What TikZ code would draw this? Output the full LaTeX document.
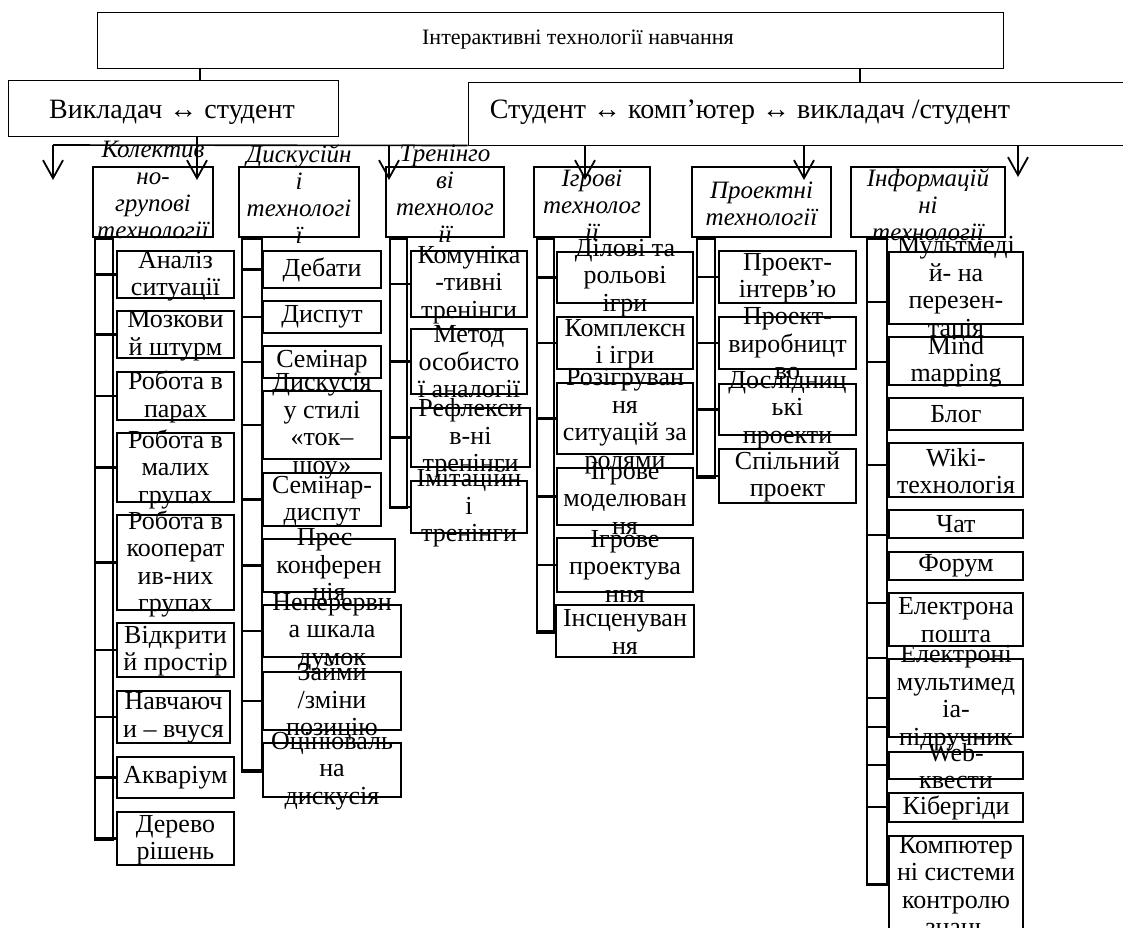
\documentclass[tikz,border=0pt]{standalone}
\usepackage{fontspec}
\setmainfont{Liberation Serif}
\usetikzlibrary{positioning,arrows.meta}

\begin{document}
\begin{tikzpicture}[
    x=1pt, y=-1pt,
    frame/.style={draw, line width=1pt, inner sep=0pt},
    cat/.style={draw, line width=2.8pt, inner sep=0pt, minimum height=70},
    cattext/.style={font=\fontsize{25}{27}\selectfont\itshape, align=center, inner sep=0pt},
    item/.style={draw, line width=2.6pt, inner sep=0pt},
    itemtext/.style={font=\fontsize{26}{27.5}\selectfont, align=center, inner sep=0pt},
    bar/.style={draw, line width=2.6pt, inner sep=0pt, anchor=north},
    link/.style={line width=1.2pt},
    arr/.style={-{Straight Barb[length=18pt, width=20pt]}, line width=1.8pt}
]
\useasboundingbox (0,0) rectangle (1123,927);
\clip (0,0) rectangle (1123,927);

% top level
\node[frame, minimum width=906, minimum height=56] (top) at (550,40) {};
\node[font=\fontsize{22}{26}\selectfont] (topT) at (578,40) {Інтерактивні технології навчання};
\node[frame, minimum width=330, minimum height=56] (vs) at (173,108) {};
\node[font=\fontsize{28}{32}\selectfont] (vsT) at (172,112) {Викладач ↔ студент};
\node[frame, minimum width=680, minimum height=63] (skv) at (808,113.5) {};
\node[font=\fontsize{28}{32}\selectfont] (skvT) at (750,112) {Студент ↔ комп’ютер ↔ викладач /студент};

\coordinate (j1) at (200,0);
\coordinate (j2) at (860,0);
\draw[link] (top.south -| j1) -- (vs.north -| j1);
\draw[link] (top.south -| j2) -- (skv.north -| j2);

% bus and arrows
\coordinate (busL) at (53,145);
\draw[line width=1.6pt] (busL) -- (skv.south west);
\coordinate (h1) at (53,180);
\coordinate (h2) at (197,180);
\coordinate (h3) at (389,180);
\coordinate (h4) at (585,180);
\coordinate (h5) at (804,180);
\coordinate (h6) at (1018,177);
\draw[arr] (busL) -- (h1);
\draw[arr] (vs.south -| h2) -- (h2);
\draw[arr] (busL -| h3) -- (h3);
\draw[arr] (skv.south -| h4) -- (h4);
\draw[arr] (skv.south -| h5) -- (h5);
\draw[arr] (skv.south -| h6) -- (h6);

% kinds of technologies
\node[cat, minimum width=120] (c1) at (153,202) {};
\node[cattext] (c1t) at (153,190) {Колектив\\но-\\групові\\технології};
\node[cat, minimum width=120] (c2) at (299,202) {};
\node[cattext] (c2t) at (299,194) {Дискусійн\\і\\технологі\\ї};
\node[cat, minimum width=118] (c3) at (445,202) {};
\node[cattext] (c3t) at (445,194) {Тренінго\\ві\\технолог\\ії};
\node[cat, minimum width=116] (c4) at (592,202) {};
\node[cattext] (c4t) at (592,205) {Ігрові\\технолог\\ії};
\node[cat, minimum width=139] (c5) at (761.5,202) {};
\node[cattext] (c5t) at (761.5,204) {Проектні\\технології};
\node[cat, minimum width=154] (c6) at (928,202) {};
\node[cattext] (c6t) at (928,205) {Інформацій\\ні\\технології};

% collective and group
\node[bar, minimum width=18, minimum height=601] (bar1) at (104,237) {};
\node[item, minimum width=117, minimum height=47] (k1) at (175.5,274.5) {};
\node[itemtext] (k1t) at (175.5,276) {Аналіз\\ситуації};
\node[item, minimum width=117, minimum height=47] (k2) at (175.5,334.5) {};
\node[itemtext] (k2t) at (175.5,336) {Мозкови\\й штурм};
\node[item, minimum width=117, minimum height=48] (k3) at (175.5,396) {};
\node[itemtext] (k3t) at (175.5,397) {Робота в\\парах};
\node[item, minimum width=117, minimum height=69] (k4) at (175.5,467.5) {};
\node[itemtext] (k4t) at (175.5,469) {Робота в\\малих\\групах};
\node[item, minimum width=117, minimum height=95] (k5) at (175.5,562.5) {};
\node[itemtext] (k5t) at (175.5,564) {Робота в\\кооперат\\ив-них\\групах};
\node[item, minimum width=117, minimum height=54] (k6) at (175.5,650) {};
\node[itemtext] (k6t) at (175.5,651) {Відкрити\\й простір};
\node[item, minimum width=113, minimum height=52] (k7) at (173.5,717) {};
\node[itemtext] (k7t) at (173.5,718) {Навчаюч\\и – вчуся};
\node[item, minimum width=117, minimum height=41] (k8) at (175.5,777.5) {};
\node[itemtext] (k8t) at (175.5,778) {Акваріум};
\node[item, minimum width=117, minimum height=53] (k9) at (175.5,838.5) {};
\node[itemtext] (k9t) at (175.5,840) {Дерево\\рішень};
\draw[bar] (bar1.west |- k1) -- (k1.west);
\draw[bar] (bar1.west |- k2) -- (k2.west);
\draw[bar] (bar1.west |- k3) -- (k3.west);
\draw[bar] (bar1.west |- k4) -- (k4.west);
\draw[bar] (bar1.west |- k5) -- (k5.west);
\draw[bar] (bar1.west |- k6) -- (k6.west);
\draw[bar] (bar1.west |- k7) -- (k7.west);
\draw[bar] (bar1.west |- k8) -- (k8.west);
\draw[bar] (bar1.west |- k9) -- (k9.west);

% discussion
\node[bar, minimum width=20, minimum height=533] (bar2) at (252,237) {};
\node[item, minimum width=118, minimum height=37] (d1) at (322,269.5) {};
\node[itemtext] (d1t) at (322,270) {Дебати};
\node[item, minimum width=118, minimum height=32] (d2) at (322,317) {};
\node[itemtext] (d2t) at (322,317) {Диспут};
\node[item, minimum width=118, minimum height=32] (d3) at (322,362) {};
\node[itemtext] (d3t) at (322,362) {Семінар};
\node[item, minimum width=118, minimum height=68] (d4) at (322,425) {};
\node[itemtext] (d4t) at (322,426) {Дискусія\\у стилі\\«ток–\\шоу»};
\node[item, minimum width=118, minimum height=53] (d5) at (322,499.5) {};
\node[itemtext] (d5t) at (322,501) {Семінар-\\диспут};
\node[item, minimum width=132, minimum height=53] (d6) at (329,565.5) {};
\node[itemtext] (d6t) at (329,567) {Прес-\\конферен\\ція};
\node[item, minimum width=138, minimum height=52] (d7) at (332,631) {};
\node[itemtext] (d7t) at (332,632) {Неперервн\\а шкала\\думок};
\node[item, minimum width=138, minimum height=58] (d8) at (332,701) {};
\node[itemtext] (d8t) at (332,702) {Займи\\/зміни\\позицію};
\node[item, minimum width=138, minimum height=54] (d9) at (332,770) {};
\node[itemtext] (d9t) at (332,771) {Оцінюваль\\на\\дискусія};
\draw[bar] (bar2.west |- d1) -- (d1.west);
\draw[bar] (bar2.west |- d2) -- (d2.west);
\draw[bar] (bar2.west |- d3) -- (d3.west);
\draw[bar] (bar2.west |- d4) -- (d4.west);
\draw[bar] (bar2.west |- d5) -- (d5.west);
\draw[bar] (bar2.west |- d6) -- (d6.west);
\draw[bar] (bar2.west |- d7) -- (d7.west);
\draw[bar] (bar2.west |- d8) -- (d8.west);
\draw[bar] (bar2.west |- d9) -- (d9.west);

% trainings
\node[bar, minimum width=17, minimum height=269] (bar3) at (398.5,237) {};
\node[item, minimum width=116, minimum height=66] (t1) at (469,284) {};
\node[itemtext] (t1t) at (469,285) {Комуніка\\-тивні\\тренінги};
\node[item, minimum width=116, minimum height=65] (t2) at (469,361.5) {};
\node[itemtext] (t2t) at (469,362) {Метод\\особисто\\ї аналогії};
\node[item, minimum width=119, minimum height=59] (t3) at (470.5,437.5) {};
\node[itemtext] (t3t) at (470.5,438) {Рефлекси\\в-ні\\тренінги};
\node[item, minimum width=116, minimum height=52] (t4) at (469,507) {};
\node[itemtext] (t4t) at (469,508) {Імітаційн\\і\\тренінги};
\draw[bar] (bar3.west |- t1) -- (t1.west);
\draw[bar] (bar3.west |- t2) -- (t2.west);
\draw[bar] (bar3.west |- t3) -- (t3.west);
\draw[bar] (bar3.west |- t4) -- (t4.west);

% games
\node[bar, minimum width=17, minimum height=394] (bar4) at (545.5,237) {};
\node[item, minimum width=136, minimum height=51] (i1) at (625,277.5) {};
\node[itemtext] (i1t) at (625,278) {Ділові та\\рольові\\ігри};
\node[item, minimum width=136, minimum height=52] (i2) at (625,343) {};
\node[itemtext] (i2t) at (625,344) {Комплексн\\і ігри};
\node[item, minimum width=136, minimum height=71] (i3) at (625,418.5) {};
\node[itemtext] (i3t) at (625,421) {Розігруван\\ня\\ситуацій за\\ролями};
\node[item, minimum width=136, minimum height=57] (i4) at (625,496.5) {};
\node[itemtext] (i4t) at (625,498) {Ігрове\\моделюван\\ня};
\node[item, minimum width=136, minimum height=54] (i5) at (625,565) {};
\node[itemtext] (i5t) at (625,566) {Ігрове\\проектува\\ння};
\node[item, minimum width=138, minimum height=52] (i6) at (625,631) {};
\node[itemtext] (i6t) at (625,632) {Інсценуван\\ня};
\draw[bar] (bar4.west |- i1) -- (i1.west);
\draw[bar] (bar4.west |- i2) -- (i2.west);
\draw[bar] (bar4.west |- i3) -- (i3.west);
\draw[bar] (bar4.west |- i4) -- (i4.west);
\draw[bar] (bar4.west |- i5) -- (i5.west);
\draw[bar] (bar4.west |- i6) -- (i6.west);

% projects
\node[bar, minimum width=18, minimum height=239] (bar5) at (706,237) {};
\node[item, minimum width=137, minimum height=52] (p1) at (787.5,277) {};
\node[itemtext] (p1t) at (787.5,278) {Проект-\\інтерв’ю};
\node[item, minimum width=137, minimum height=52] (p2) at (787.5,343) {};
\node[itemtext] (p2t) at (787.5,344) {Проект-\\виробницт\\во};
\node[item, minimum width=137, minimum height=51] (p3) at (787.5,409.5) {};
\node[itemtext] (p3t) at (787.5,410) {Дослідниц\\ькі\\проекти};
\node[item, minimum width=137, minimum height=54] (p4) at (787.5,476) {};
\node[itemtext] (p4t) at (787.5,477) {Спільний\\проект};
\draw[bar] (bar5.west |- p1) -- (p1.west);
\draw[bar] (bar5.west |- p2) -- (p2.west);
\draw[bar] (bar5.west |- p3) -- (p3.west);
\draw[bar] (bar5.west |- p4) -- (p4.west);

% information
\node[bar, minimum width=20, minimum height=646] (bar6) at (877,237) {};
\node[item, minimum width=134, minimum height=72] (n1) at (956,288) {};
\node[itemtext] (n1t) at (956,289) {Мультмеді\\й- на\\перезен-\\тація};
\node[item, minimum width=134, minimum height=48] (n2) at (956,361) {};
\node[itemtext] (n2t) at (956,362) {Mind\\mapping};
\node[item, minimum width=134, minimum height=32] (n3) at (956,414) {};
\node[itemtext] (n3t) at (956,414) {Блог};
\node[item, minimum width=134, minimum height=54] (n4) at (956,470) {};
\node[itemtext] (n4t) at (956,471) {Wiki-\\технологія};
\node[item, minimum width=134, minimum height=28] (n5) at (956,524) {};
\node[itemtext] (n5t) at (956,524) {Чат};
\node[item, minimum width=134, minimum height=28] (n6) at (956,566) {};
\node[itemtext] (n6t) at (956,566) {Форум};
\node[item, minimum width=134, minimum height=53] (n7) at (956,619.5) {};
\node[itemtext] (n7t) at (956,620) {Електрона\\пошта};
\node[item, minimum width=134, minimum height=78] (n8) at (956,698) {};
\node[itemtext] (n8t) at (956,698) {Електроні\\мультимед\\іа-\\підручник};
\node[item, minimum width=134, minimum height=27] (n9) at (956,765.5) {};
\node[itemtext] (n9t) at (956,766) {Web-\\квести};
\node[item, minimum width=134, minimum height=29] (n10) at (956,807.5) {};
\node[itemtext] (n10t) at (956,808) {Кібергіди};
\node[item, minimum width=134, minimum height=96] (n11) at (956,884) {};
\node[itemtext] (n11t) at (956,886) {Компютер\\ні системи\\контролю\\знань};
\draw[bar] (bar6.west |- 0,302) -- (bar6.east |- 0,302);
\draw[bar] (bar6.west |- 0,362) -- (bar6.east |- 0,362);
\draw[bar] (bar6.west |- 0,465) -- (bar6.east |- 0,465);
\draw[bar] (bar6.west |- 0,535) -- (bar6.east |- 0,535);
\draw[bar] (bar6.west |- 0,603) -- (bar6.east |- 0,603);
\draw[bar] (bar6.west |- 0,658) -- (bar6.east |- 0,658);
\draw[bar] (bar6.west |- 0,698) -- (bar6.east |- 0,698);
\draw[bar] (bar6.west |- 0,727) -- (bar6.east |- 0,727);
\draw[bar] (bar6.west |- 0,765) -- (bar6.east |- 0,765);
\draw[bar] (bar6.west |- 0,807) -- (bar6.east |- 0,807);
\end{tikzpicture}
\end{document}
